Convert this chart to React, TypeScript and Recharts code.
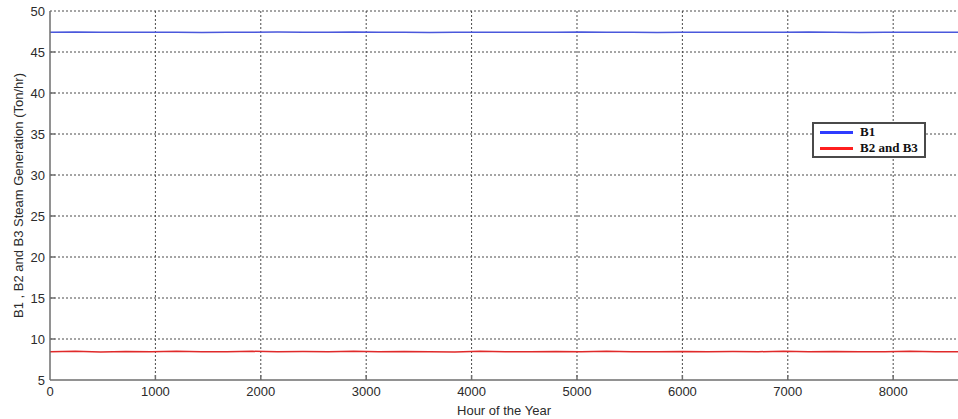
import { CartesianGrid, Line, LineChart, XAxis, YAxis } from "recharts";

// Hourly steam generation of the three boilers over one year.
const hours = [
  0, 240, 480, 720, 960, 1200, 1440, 1680, 1920, 2160, 2400, 2640, 2880, 3120,
  3360, 3600, 3840, 4080, 4320, 4560, 4800, 5040, 5280, 5520, 5760, 6000, 6240,
  6480, 6720, 6960, 7200, 7440, 7680, 7920, 8160, 8400, 8640, 8760,
];
const b1Steam = [
  47.4, 47.45, 47.4, 47.4, 47.42, 47.4, 47.38, 47.4, 47.4, 47.43, 47.4, 47.4,
  47.45, 47.4, 47.4, 47.38, 47.4, 47.42, 47.4, 47.4, 47.4, 47.44, 47.4, 47.4,
  47.38, 47.4, 47.4, 47.42, 47.4, 47.4, 47.45, 47.4, 47.38, 47.4, 47.42, 47.4,
  47.4, 47.4,
];
const b23Steam = [
  8.45, 8.5, 8.42, 8.48, 8.45, 8.5, 8.44, 8.46, 8.5, 8.43, 8.47, 8.45, 8.5,
  8.44, 8.48, 8.45, 8.42, 8.5, 8.46, 8.44, 8.48, 8.45, 8.5, 8.43, 8.46, 8.49,
  8.44, 8.47, 8.45, 8.5, 8.43, 8.48, 8.45, 8.46, 8.5, 8.44, 8.46, 8.45,
];
const xTicks = [0, 1000, 2000, 3000, 4000, 5000, 6000, 7000, 8000];
const yTicks = [5, 10, 15, 20, 25, 30, 35, 40, 45, 50];

const data = hours.map((hour, i) => ({
  hour,
  b1: b1Steam[i],
  b23: b23Steam[i],
}));

const FONT = "'Liberation Sans', Arial, sans-serif";
const AXIS = "#6e6e6e";
const INK = "#2b2b2b";

// MATLAB-style ticks: short marks pointing into the plot box
function BottomTick({ x, y, payload }: any) {
  return (
    <g>
      {payload.value !== 0 && (
        <line x1={x} y1={y} x2={x} y2={y - 5} stroke={AXIS} strokeWidth={1.5} />
      )}
      <text x={x} y={y + 16} textAnchor="middle" fill={INK} fontSize={13} fontFamily={FONT}>
        {payload.value}
      </text>
    </g>
  );
}

function TopTick({ x, y, payload }: any) {
  if (payload.value === 0) return null;
  return <line x1={x} y1={y} x2={x} y2={y + 5} stroke={AXIS} strokeWidth={1.5} />;
}

function LeftTick({ x, y, payload }: any) {
  return (
    <g>
      {payload.value !== 5 && payload.value !== 50 && (
        <line x1={x} y1={y} x2={x + 5} y2={y} stroke={AXIS} strokeWidth={1.5} />
      )}
      <text x={x - 5} y={y + 5} textAnchor="end" fill={INK} fontSize={13} fontFamily={FONT}>
        {payload.value}
      </text>
    </g>
  );
}

function LegendBox() {
  const row = (color: string, label: string) => (
    <div style={{ display: "flex", alignItems: "center", height: 16 }}>
      <div style={{ width: 33, height: 3, background: color, marginRight: 7 }} />
      <span>{label}</span>
    </div>
  );
  return (
    <div
      style={{
        position: "absolute",
        left: 812,
        top: 122,
        width: 104,
        height: 32,
        border: "2px solid #4a4a4a",
        background: "#fff",
        padding: "0 0 0 6px",
        fontFamily: "'Liberation Serif', 'Times New Roman', serif",
        fontWeight: "bold",
        fontSize: 13,
        color: "#111",
        lineHeight: "16px",
      }}
    >
      {row("#2f3cff", "B1")}
      {row("#ff1f1f", "B2 and B3")}
    </div>
  );
}

export default function App() {
  return (
    <div style={{ position: "absolute", left: 0, top: 0, width: 958, height: 419, background: "#fff" }}>
      <LineChart width={958} height={419} data={data} margin={{ top: 11, right: 0, left: 0, bottom: 0 }}>
        <CartesianGrid
          stroke="#4a4a4a"
          strokeDasharray="2 2"
          verticalValues={xTicks.slice(1)}
          horizontalValues={yTicks.slice(1)}
        />
        <XAxis
          dataKey="hour"
          type="number"
          domain={[0, 8615]}
          allowDataOverflow
          ticks={xTicks}
          interval={0}
          height={39}
          tickSize={0}
          tickMargin={0}
          tickLine={false}
          axisLine={{ stroke: AXIS, strokeWidth: 1.5 }}
          tick={<BottomTick />}
          label={{
            value: "Hour of the Year",
            position: "insideBottom",
            offset: 0,
            dy: -4,
            fill: INK,
            fontSize: 13,
            fontFamily: FONT,
          }}
        />
        <XAxis
          xAxisId="top"
          orientation="top"
          dataKey="hour"
          type="number"
          domain={[0, 8615]}
          allowDataOverflow
          ticks={xTicks}
          interval={0}
          height={0}
          tickSize={0}
          tickMargin={0}
          tickLine={false}
          axisLine={{ stroke: AXIS, strokeWidth: 1.5 }}
          tick={<TopTick />}
        />
        <YAxis
          type="number"
          domain={[5, 50]}
          ticks={yTicks}
          interval={0}
          width={50}
          tickSize={0}
          tickMargin={0}
          tickLine={false}
          axisLine={{ stroke: AXIS, strokeWidth: 1.5 }}
          tick={<LeftTick />}
          label={{
            value: "B1 , B2 and B3 Steam Generation (Ton/hr)",
            angle: -90,
            position: "center",
            dx: -7,
            fill: INK,
            fontSize: 13,
            fontFamily: FONT,
          }}
        />
        <Line
          dataKey="b1"
          stroke="#4a58dc"
          strokeWidth={1.5}
          dot={false}
          isAnimationActive={false}
        />
        <Line
          dataKey="b23"
          stroke="#e02a2a"
          strokeWidth={1.5}
          dot={false}
          isAnimationActive={false}
        />
      </LineChart>
      <LegendBox />
    </div>
  );
}
